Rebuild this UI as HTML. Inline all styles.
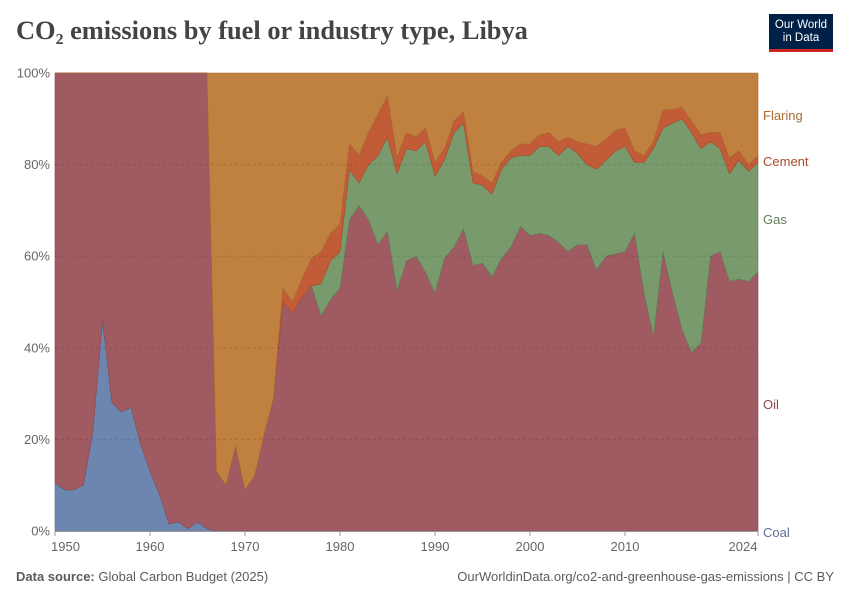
<!DOCTYPE html>
<html><head><meta charset="utf-8"><style>
body{margin:0;background:#fff;font-family:"Liberation Sans",sans-serif}
#wrap{position:relative;width:850px;height:600px;overflow:hidden}
.t{position:absolute;white-space:nowrap}
</style></head><body>
<div id="wrap">
<div class="t" style="left:16px;top:15px;font-family:'Liberation Serif',serif;font-size:26.4px;font-weight:bold;color:#444">CO₂ emissions by fuel or industry type, Libya</div>
<div style="position:absolute;left:769px;top:14px;width:64px;height:38px;background:#002147;border-bottom:3px solid #ce261e;box-sizing:border-box;color:#fff;font-size:11.5px;line-height:13px;text-align:center;padding-top:5px">Our World<br>in Data</div>
<svg id="chart" width="850" height="600" style="position:absolute;left:0;top:0"></svg>
<div class="t" style="left:16px;top:569px;font-size:13px;color:#5b5b5b"><b>Data source:</b> Global Carbon Budget (2025)</div>
<div class="t" style="right:16px;top:569px;font-size:13px;color:#5b5b5b">OurWorldinData.org/co2-and-greenhouse-gas-emissions | CC BY</div>
</div>
<script>
const years=[];for(let y=1950;y<=2024;y++)years.push(y);
const coal=[10.5,9,9,10,22,46,28,26,27,19,13,8,1.5,2,0.5,2,0.5,
0,0,0,0,0,0,0,0,0,0,0,0,0,0,0,0,0,0,0,0,0,0,0,0,0,0,0,0,0,0,0,0,0,0,0,0,0,0,0,0,0,0,0,0,0,0,0,0,0,0,0,0,0,0,0,0,0,0,0,0];
const oil=[89.5,91,91,90,78,54,72,74,73,81,87,92,98.5,98,99.5,98,99.5,
13,10,18.5,9,12,21,29,50,47.5,51,
53.5,47,50.5,53,68,71,68,62.5,65.5,52.5,59,60,56.5,52,59.5,62,66,58,58.5,55.5,59.5,62,66.5,64.5,65,64.5,63,61,62.5,62.5,57,60,60.5,61,65,52,42.5,61,52,44,39,41,60,61,54.5,55,54.5,56.5];
const gas=[0,0,0,0,0,0,0,0,0,0,0,0,0,0,0,0,0,0,0,0,0,0,0,0,0,0,0,
0,7,8.5,8,11,5,12,19.5,20.5,25.5,24.5,23,28.5,25.5,21.5,25,23,18,17,18,19.5,19.5,15.5,17.5,19,19.5,19,23,20,17.5,22,21,22.5,23,15.5,28.5,41,27,37,46,48,42.5,25,22.5,23.5,26,24,24];
const cement=[0,0,0,0,0,0,0,0,0,0,0,0,0,0,0,0,0,0,0,0,0,0,0,0,3,2.5,4,
6,7,6,6,5.5,6,7,9,9,3.5,3.5,3,3,3,2.5,2.5,2.5,2.5,2,2.5,1.5,1.5,2.5,2.5,2.5,3,3,2,2.5,4.5,5,4.5,4.5,4,2.5,1.5,1.5,4,3,2.5,2.5,3,2,3.5,3.5,2,1.5,1.5];
const flaring=[0,0,0,0,0,0,0,0,0,0,0,0,0,0,0,0,0,
87,90,81.5,91,88,79,71,47,50,45,
40.5,39,35,33,15.5,18,13,9,5,18.5,13,14,12,19.5,16.5,10.5,8.5,21.5,22.5,24,19.5,17,15.5,15.5,13.5,13,15,14,15,15.5,16,14.5,12.5,12,17,18,15,8,8,7.5,10.5,13.5,13,13,18.5,17,20,18];
const seriesNames=["Coal","Oil","Gas","Cement","Flaring"];
const yTicks=[0,20,40,60,80,100];
const xTicks=[1950,1960,1970,1980,1990,2000,2010,2024];
const colors=["#6d86b0","#a05a62","#789a6c","#c25c38","#c0803f"];
const strokes=["#5a6f96","#8a4a50","#5f8055","#a84a2c","#a86a30"];
const X0=55,X1=758,Y0=531,Y1=73;
const x=y=>X0+(y-1950)*(X1-X0)/(2024-1950);
const yv=v=>Y0-v*(Y0-Y1)/100;
const svg=document.getElementById('chart');const NS="http://www.w3.org/2000/svg";
function mk(t,a){const e=document.createElementNS(NS,t);for(const k in a)e.setAttribute(k,a[k]);svg.appendChild(e);return e;}
const data=[coal,oil,gas,cement,flaring];
let base=years.map(()=>0);
data.forEach((s,i)=>{
  const top=base.map((b,j)=>b+s[j]);
  let d="M"+years.map((yr,j)=>x(yr)+","+yv(top[j])).join("L");
  for(let j=years.length-1;j>=0;j--)d+="L"+x(years[j])+","+yv(base[j]);
  const p=mk('path',{d:d+"Z",fill:colors[i],stroke:strokes[i],"stroke-width":0.6});
  
  
  base=top;
});
yTicks.forEach(t=>{
  if(t>0&&t<100){const g=mk('line',{x1:X0,x2:X1,y1:yv(t),y2:yv(t),stroke:"#000","stroke-opacity":0.12,"stroke-dasharray":"3,3"});
  
  }
  const l=mk('text',{x:50,y:yv(t)+4.5,"text-anchor":"end","font-size":13,fill:"#666","font-family":"Liberation Sans"});l.textContent=t+"%";
  
  
});
const ax=mk('line',{x1:X0,x2:X1,y1:Y0+0.5,y2:Y0+0.5,stroke:"#999"});


xTicks.forEach((t,i)=>{
  const tk=mk('line',{x1:x(t),x2:x(t),y1:Y0,y2:Y0+5,stroke:"#999"});
  
  
  const l=mk('text',{x:i==xTicks.length-1?x(t)-15:x(t),y:Y0+20,"text-anchor":i==0?"start":"middle","font-size":13,fill:"#666","font-family":"Liberation Sans"});
  if(i==0)l.setAttribute('x',x(t)-4);
  l.textContent=t;
  
  
});
const labelY=[537,409,224,166,120];
seriesNames.forEach((n,i)=>{
  const l=mk('text',{x:763,y:labelY[i],"font-size":13,fill:strokes[i],"font-family":"Liberation Sans"});l.textContent=n;
  
  
});
</script>
</body></html>
